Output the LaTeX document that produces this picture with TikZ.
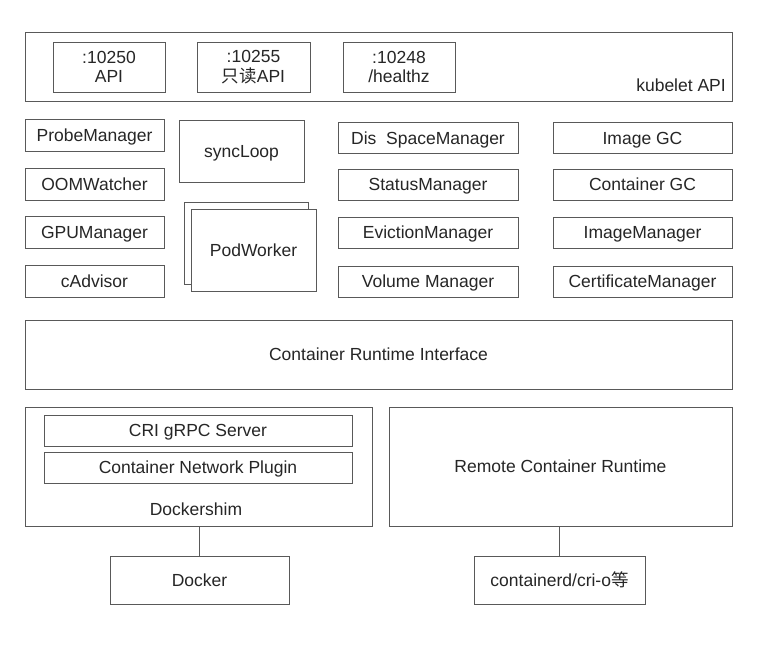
\documentclass[tikz,border=0pt]{standalone}
\usepackage{fontspec}
\setmainfont{Liberation Sans}
\newfontfamily\cjk{Noto Sans CJK SC}
\begin{document}
\begin{tikzpicture}[x=1pt,y=-1pt,
  frame/.style={draw=black!65, line width=1pt, fill=white, inner sep=0pt, text=black!85},
  box/.style={frame, font=\fontsize{17.5}{20}\selectfont, text height=12.6pt, text depth=0pt},
  twoline/.style={frame, align=center, font=\fontsize{17.5}{19.5}\selectfont},
  lbl/.style={inner sep=0pt, font=\fontsize{17.5}{20}\selectfont, text=black!85, text height=12.6pt, text depth=0pt}]
\useasboundingbox (0,0) rectangle (758,654);
% kubelet API
\node[frame, minimum width=707pt, minimum height=69pt] (kapi) at (378.5,66.5) {};
\node[lbl, anchor=east] (kapilbl) at (726,85) {kubelet API};
\node[twoline, minimum width=112pt, minimum height=50pt] (p1) at (109,67) {:10250\\API};
\node[twoline, minimum width=113pt, minimum height=50pt] (p2) at (253.5,67) {:10255\\{\cjk 只读}API};
\node[twoline, minimum width=112pt, minimum height=50pt] (p3) at (399,67) {:10248\\/healthz};
% left column
\node[box, minimum width=139pt, minimum height=32pt] (probe) at (94.5,135.5) {ProbeManager};
\node[box, minimum width=139pt, minimum height=32pt] (oom) at (94.5,184) {OOMWatcher};
\node[box, minimum width=139pt, minimum height=32pt] (gpu) at (94.5,232.5) {GPUManager};
\node[box, minimum width=139pt, minimum height=32pt] (cadv) at (94.5,281.5) {cAdvisor};
% syncLoop and PodWorker
\node[box, minimum width=125pt, minimum height=62pt] (sync) at (241.5,151) {syncLoop};
\node[frame, minimum width=124pt, minimum height=82pt] (podback) at (246,243) {};
\node[box, minimum width=125pt, minimum height=82pt] (pod) at (253.5,250) {PodWorker};
% middle column
\node[box, minimum width=180pt, minimum height=31pt] (disk) at (428,138) {Dis\ \ SpaceManager};
\node[box, minimum width=180pt, minimum height=31pt] (status) at (428,184.5) {StatusManager};
\node[box, minimum width=180pt, minimum height=31pt] (evict) at (428,232.5) {EvictionManager};
\node[box, minimum width=180pt, minimum height=31pt] (vol) at (428,281.5) {Volume Manager};
% right column
\node[box, minimum width=179pt, minimum height=31pt] (igc) at (642.5,138) {Image GC};
\node[box, minimum width=179pt, minimum height=31pt] (cgc) at (642.5,184.5) {Container GC};
\node[box, minimum width=179pt, minimum height=31pt] (imgm) at (642.5,232.5) {ImageManager};
\node[box, minimum width=179pt, minimum height=31pt] (cert) at (642.5,281.5) {CertificateManager};
% CRI
\node[box, minimum width=707pt, minimum height=69pt] (cri) at (378.5,354.5) {Container Runtime Interface};
% Dockershim
\node[frame, minimum width=347pt, minimum height=119pt] (shim) at (198.5,466.5) {};
\node[lbl] (shimlbl) at (196,509) {Dockershim};
\node[box, minimum width=308pt, minimum height=31pt] (grpc) at (198,430.5) {CRI gRPC Server};
\node[box, minimum width=308pt, minimum height=31pt] (cnp) at (198,467.5) {Container Network Plugin};
% Remote
\node[box, minimum width=343pt, minimum height=119pt] (remote) at (560.5,466.5) {Remote Container Runtime};
% bottom
\node[box, minimum width=179pt, minimum height=48pt] (docker) at (199.5,580) {Docker};
\node[box, minimum width=171pt, minimum height=48pt] (ctrd) at (559.5,580) {containerd/cri-o{\cjk 等}};
\draw[draw=black!65, line width=1pt] (docker.north) -- (docker.north |- shim.south);
\draw[draw=black!65, line width=1pt] (ctrd.north) -- (ctrd.north |- remote.south);
\end{tikzpicture}
\end{document}
